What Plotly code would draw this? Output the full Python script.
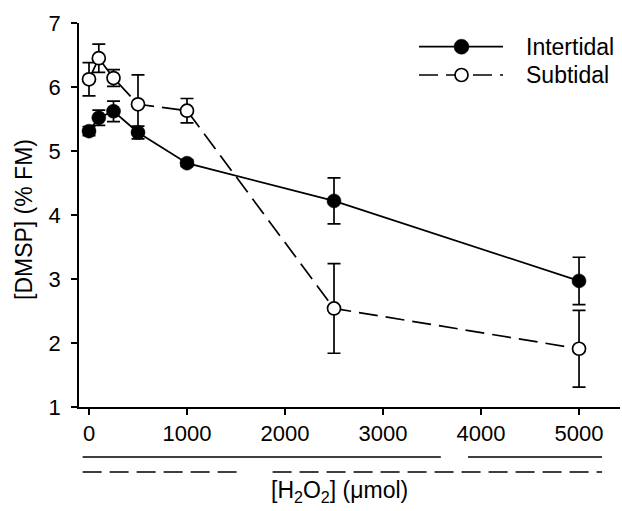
import plotly.graph_objects as go

# ---- data ----
h2o2 = [0, 100, 250, 500, 1000, 2500, 5000]
inter_y = [5.31, 5.52, 5.62, 5.29, 4.81, 4.22, 2.97]
inter_err = [0.07, 0.12, 0.16, 0.10, 0.05, 0.36, 0.37]
sub_y = [6.12, 6.45, 6.14, 5.73, 5.63, 2.54, 1.91]
sub_err = [0.26, 0.22, 0.13, 0.46, 0.19, 0.70, 0.60]
x_ticks = [0, 1000, 2000, 3000, 4000, 5000]
y_ticks = [1, 2, 3, 4, 5, 6, 7]
# grouping lines under the x axis (start, end in µmol)
solid_groups = [(-65, 3590), (3867, 5235)]
dashed_groups = [(-65, 1516), (1873, 5235)]

FONT = "Arial, Liberation Sans, sans-serif"
DASH = "19px,8px"

fig = go.Figure()

fig.add_trace(go.Scatter(
    x=h2o2, y=sub_y, name="Subtidal", mode="lines+markers",
    line=dict(color="black", width=1.7, dash=DASH),
    marker=dict(symbol="circle", size=13, color="white",
                line=dict(color="black", width=1.7)),
    error_y=dict(type="data", array=sub_err, visible=True,
                 color="black", thickness=1.7, width=6.5),
    showlegend=False,
))
fig.add_trace(go.Scatter(
    x=h2o2, y=inter_y, name="Intertidal", mode="lines+markers",
    line=dict(color="black", width=1.7),
    marker=dict(symbol="circle", size=14, color="black",
                line=dict(color="black", width=0.5)),
    error_y=dict(type="data", array=inter_err, visible=True,
                 color="black", thickness=1.7, width=6.5),
    showlegend=False,
))

shapes = []
# grouping lines below axis
for a, b in solid_groups:
    shapes.append(dict(type="line", xref="x", yref="paper", x0=a, x1=b,
                       y0=-0.130, y1=-0.130,
                       line=dict(color="black", width=1.5)))
for a, b in dashed_groups:
    shapes.append(dict(type="line", xref="x", yref="paper", x0=a, x1=b,
                       y0=-0.169, y1=-0.169,
                       line=dict(color="black", width=1.5, dash=DASH)))
# small extension of x axis line to the left of the y axis
shapes.append(dict(type="line", xref="paper", yref="paper", x0=-6/541, x1=0,
                   y0=0, y1=0, line=dict(color="black", width=1.7)))

# custom legend
lx0, lx1, lxm = (419-79)/541, (503-79)/541, (461.5-79)/541
ly1, ly2 = (407-46.7)/384, (407-75)/384
shapes.append(dict(type="line", xref="paper", yref="paper", x0=lx0, x1=lx1,
                   y0=ly1, y1=ly1, line=dict(color="black", width=1.7)))
shapes.append(dict(type="line", xref="paper", yref="paper", x0=lx0, x1=lx1,
                   y0=ly2, y1=ly2, line=dict(color="black", width=1.7, dash=DASH)))
shapes.append(dict(type="circle", xref="paper", yref="paper",
                   xsizemode="pixel", ysizemode="pixel",
                   xanchor=lxm, yanchor=ly1, x0=-7.5, x1=7.5, y0=-7.5, y1=7.5,
                   fillcolor="black", line=dict(color="black", width=0.5)))
shapes.append(dict(type="circle", xref="paper", yref="paper",
                   xsizemode="pixel", ysizemode="pixel",
                   xanchor=lxm, yanchor=ly2, x0=-6.5, x1=6.5, y0=-6.5, y1=6.5,
                   fillcolor="white", line=dict(color="black", width=1.7)))

annotations = [
    dict(text="Intertidal", xref="paper", yref="paper", x=(524-79)/541, y=ly1,
         xanchor="left", yanchor="middle", showarrow=False,
         font=dict(family=FONT, size=23, color="black")),
    dict(text="Subtidal", xref="paper", yref="paper", x=(524-79)/541, y=ly2,
         xanchor="left", yanchor="middle", showarrow=False,
         font=dict(family=FONT, size=23, color="black")),
    dict(text="[H<sub>2</sub>O<sub>2</sub>] (μmol)", xref="paper", yref="paper",
         x=(339-79)/541, y=-(491-407)/384, xanchor="center", yanchor="middle",
         showarrow=False, font=dict(family=FONT, size=23, color="black")),
    dict(text="[DMSP] (% FM)", xref="paper", yref="paper",
         x=(24-79)/541, y=(407-220)/384, xanchor="center", yanchor="middle",
         textangle=-90, showarrow=False,
         font=dict(family=FONT, size=23, color="black")),
]

fig.update_layout(
    width=622, height=511,
    margin=dict(l=79, r=2, t=23, b=104),
    plot_bgcolor="white", paper_bgcolor="white",
    shapes=shapes, annotations=annotations,
    font=dict(family=FONT, size=22, color="black"),
    xaxis=dict(range=[-102, 5418], tickvals=x_ticks,
               ticktext=[str(v) for v in x_ticks],
               showline=True, linecolor="black", linewidth=1.7,
               ticks="outside", ticklen=6, tickwidth=1.5, tickcolor="black",
               showgrid=False, zeroline=False,
               tickfont=dict(family=FONT, size=22, color="black")),
    yaxis=dict(range=[1, 7], tickvals=y_ticks,
               showline=True, linecolor="black", linewidth=1.7,
               ticks="outside", ticklen=6, tickwidth=1.5, tickcolor="black",
               ticklabelstandoff=6,
               showgrid=False, zeroline=False,
               tickfont=dict(family=FONT, size=22, color="black")),
)

fig.write_html("out.html")
